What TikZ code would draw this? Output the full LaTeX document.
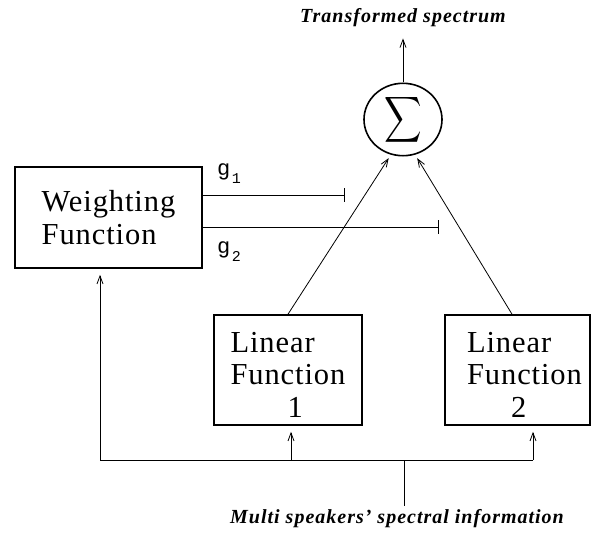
\documentclass[tikz,border=0pt]{standalone}
\usepackage{graphicx}
\usepackage{fontspec}
\setmainfont{Liberation Serif}
\setmonofont{Liberation Mono}
\newfontfamily\boxfont[LetterSpace=3]{Liberation Serif}
\newfontfamily\capfont[LetterSpace=5]{Liberation Serif}
\usetikzlibrary{arrows.meta,shapes.geometric}
\begin{document}
\begin{tikzpicture}[x=1pt,y=-1pt,
  box/.style={draw,line width=1.6pt,inner sep=0pt,font=\boxfont\fontsize{30.5}{32.5}\selectfont,align=left},
  conn/.style={line width=0.8pt},
  arr/.style={conn,-{Straight Barb[length=8pt,width=6pt]}},
  caption/.style={inner sep=0pt,font=\capfont\bfseries\itshape\fontsize{20}{22}\selectfont},
  glab/.style={inner sep=0pt,anchor=base west,font=\ttfamily\fontsize{22}{22}\selectfont},
  tick/.style={conn,-{Bar[width=14pt,line width=0.8pt]}}
]
\useasboundingbox (0,0) rectangle (595,538);

\node[caption,anchor=base] (top) at (403,22) {Transformed spectrum};
\node[draw,ellipse,line width=1.6pt,minimum width=78pt,minimum height=69pt,inner sep=0pt] (sig) at (403,119.5)
  {\scalebox{2.6}[3.2]{$\displaystyle\sum$}};

\node[box,minimum width=187pt,minimum height=101pt] (wf) at (108.5,217.5) {Weighting\\Function};
\node[box,minimum width=148pt,minimum height=110pt] (lf1) at (288,370)
  {\rule{0pt}{29pt}Linear\\Function\\\hspace*{57pt}1};
\node[box,minimum width=145pt,minimum height=110pt] (lf2) at (517.5,370)
  {\rule{0pt}{29pt}\hspace*{14pt}Linear\\\hspace*{14pt}Function\\\hspace*{58pt}2};

\node[glab] (g1) at (217,175) {g\hspace{1.5pt}\raisebox{-8pt}{\fontsize{15}{15}\selectfont 1}};
\node[glab] (g2) at (217,253) {g\hspace{1.5pt}\raisebox{-8pt}{\fontsize{15}{15}\selectfont 2}};

\node[caption,anchor=base] (bot) at (397,523) {Multi speakers’ spectral information};

\coordinate (t1) at (345,195);
\coordinate (t2) at (439,227);
\draw[tick] (wf.east |- t1) -- (t1);
\draw[tick] (wf.east |- t2) -- (t2);

\coordinate (bl) at (100,460);
\coordinate (br) at (533,460);
\coordinate (j) at (404,460);
\draw[conn] (bl) -- (br);
\draw[arr,shorten >=6pt] (bl) -- (bl |- wf.south);
\draw[arr,shorten >=6pt] ([xshift=3pt]lf1.south |- bl) -- ([xshift=3pt]lf1.south);
\draw[arr,shorten >=6pt] (br) -- (br |- lf2.south);
\draw[conn,shorten >=3pt] (j) -- (j |- bot.north);

\draw[arr,shorten >=12pt] (sig.north) -- (sig.north |- top.south);
\draw[arr,shorten >=4pt] (lf1.north) -- (sig.-109);
\draw[arr,shorten >=4pt] ([xshift=-5.5pt]lf2.north) -- (sig.-71);
\end{tikzpicture}
\end{document}
